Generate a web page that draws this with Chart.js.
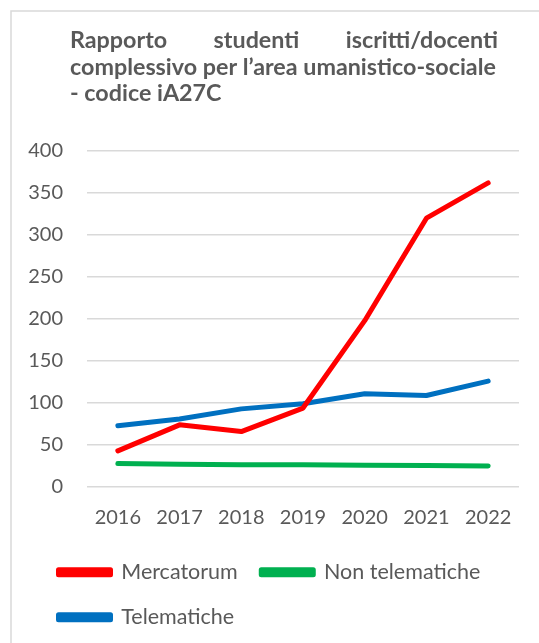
<!DOCTYPE html>
<html>
<head>
<meta charset="utf-8">
<script src="https://cdn.jsdelivr.net/npm/chart.js@4"></script>
<style>
  html, body { margin: 0; padding: 0; background: #fff; }
  #wrap { width: 539px; height: 643px; position: relative; }
</style>
</head>
<body>
<div id="wrap"><canvas id="chart" width="539" height="643"></canvas></div>
<script>
const categories = ["2016", "2017", "2018", "2019", "2020", "2021", "2022"];
const mercatorum = [43, 74, 66, 94, 198, 320, 362];
const nonTelematiche = [28, 27, 26.5, 26.5, 26, 25.5, 25];
const telematiche = [73, 81, 93, 99, 111, 109, 126];
const titleLines = [
  "Rapporto studenti iscritti/docenti",
  "complessivo per l\u2019area umanistico-sociale",
  "- codice iA27C",
];

const textColor = "#595959";
const gridColor = "#d9d9d9";
const fontFamily = "Lato, 'Open Sans', sans-serif";

// frame + justified title (Excel style), legend nudged right
const decor = {
  id: "decor",
  afterLayout(chart) {
    chart.legend.left += 15;
    chart.legend.right += 15;
  },
  beforeDraw(chart) {
    const ctx = chart.ctx;
    ctx.save();
    ctx.strokeStyle = "#d9d9d9";
    ctx.lineWidth = 1.5;
    ctx.beginPath();
    ctx.moveTo(11, 700);
    ctx.lineTo(11, 11);
    ctx.lineTo(600, 11);
    ctx.stroke();
    ctx.restore();
  },
  afterDraw(chart) {
    const ctx = chart.ctx;
    ctx.save();
    ctx.fillStyle = textColor;
    ctx.font = "bold 23.3px " + fontFamily;
    ctx.textBaseline = "alphabetic";
    const left = 70, right = 498;
    const baselines = [48, 74.5, 100.5];
    // first line justified
    const words = titleLines[0].split(" ");
    const wordsW = words.reduce((s, w) => s + ctx.measureText(w).width, 0);
    const gap = (right - left - wordsW) / (words.length - 1);
    let x = left;
    words.forEach((w) => {
      ctx.fillText(w, x, baselines[0]);
      x += ctx.measureText(w).width + gap;
    });
    ctx.fillText(titleLines[1], left, baselines[1]);
    ctx.fillText(titleLines[2], left, baselines[2]);
    ctx.restore();
  },
};

new Chart(document.getElementById("chart").getContext("2d"), {
  type: "line",
  data: {
    labels: categories,
    datasets: [
      {
        label: "Mercatorum",
        data: mercatorum,
        borderColor: "#ff0000",
        backgroundColor: "#ff0000",
        borderWidth: 5,
        pointRadius: 0,
        borderCapStyle: "round",
        borderJoinStyle: "round",
      },
      {
        label: "Non telematiche",
        data: nonTelematiche,
        borderColor: "#00b050",
        backgroundColor: "#00b050",
        borderWidth: 5,
        pointRadius: 0,
        borderCapStyle: "round",
        borderJoinStyle: "round",
      },
      {
        label: "Telematiche",
        data: telematiche,
        borderColor: "#0070c0",
        backgroundColor: "#0070c0",
        borderWidth: 5,
        pointRadius: 0,
        borderCapStyle: "round",
        borderJoinStyle: "round",
      },
    ],
  },
  options: {
    responsive: false,
    animation: false,
    layout: { padding: { top: 151, left: 20, right: 20, bottom: 5 } },
    scales: {
      x: {
        offset: true,
        grid: { display: false, drawTicks: false },
        border: { display: false },
        ticks: { color: textColor, font: { family: fontFamily, size: 20 }, padding: 19, maxRotation: 0 },
        afterFit: (scale) => { scale.height -= 11; },
      },
      y: {
        min: 0,
        max: 400,
        grid: { color: gridColor, lineWidth: 1.5, drawTicks: false },
        border: { display: false },
        ticks: { stepSize: 50, color: textColor, font: { family: fontFamily, size: 20 }, padding: 24 },
        afterFit: (scale) => { scale.width = 67; },
      },
    },
    plugins: {
      title: { display: false },
      tooltip: { enabled: false },
      legend: {
        position: "bottom",
        align: "start",
        labels: {
          color: textColor,
          font: { family: fontFamily, size: 21.5 },
          boxWidth: 52,
          boxHeight: 5,
          padding: 23.5,
        },
      },
    },
  },
  plugins: [decor],
});
</script>
</body>
</html>
